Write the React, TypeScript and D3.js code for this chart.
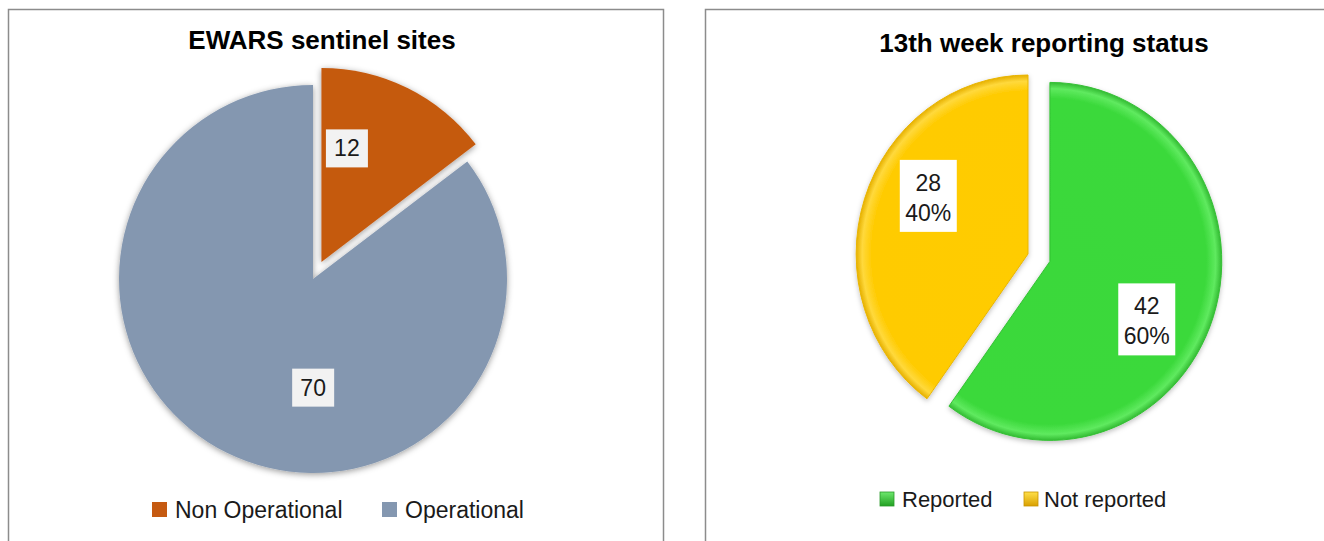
import React from 'react';
import * as d3 from 'd3';

// ---- data ----
const sitesTitle = 'EWARS sentinel sites';
const sitesCategories = ['Non Operational', 'Operational'];
const sitesValues = [12, 70];

const reportTitle = '13th week reporting status';
const reportCategories = ['Reported', 'Not reported'];
const reportValues = [42, 28];

// ---- styling / layout ----
const W = 1324;
const H = 541;
const FONT = "'Liberation Sans', Arial, sans-serif";
const sitesColors = ['#c55a11', '#8497b0'];

const left = { cx: 313, cy: 279, r: 194, sx: 1, explode: [19, 0], labelFrac: [0.24, 0.414], labelRad: [0.6, 0.56] };
const right = { cx: 1028, cy: 254, r: 179, sx: 0.96, explode: [24, 0], labelFrac: [0.555, 0.578], labelRad: [0.65, 0.665] };

const pie = d3.pie<number>().sort(null).value((d) => d).startAngle(0).endAngle(2 * Math.PI);

function geom(values: number[], cfg: typeof left) {
  const arcs = pie(values);
  const arcGen = d3.arc<d3.PieArcDatum<number>>().innerRadius(0).outerRadius(cfg.r);
  return arcs.map((a, i) => {
    const mid = (a.startAngle + a.endAngle) / 2;
    const e = cfg.explode[i];
    const ox = Math.sin(mid) * e * cfg.sx;
    const oy = -Math.cos(mid) * e;
    const la = a.startAngle + cfg.labelFrac[i] * (a.endAngle - a.startAngle);
    const lr = cfg.labelRad[i] * cfg.r;
    return {
      path: arcGen(a) as string,
      tx: cfg.cx + ox,
      ty: cfg.cy + oy,
      lx: cfg.cx + ox + Math.sin(la) * lr * cfg.sx,
      ly: cfg.cy + oy - Math.cos(la) * lr,
    };
  });
}

export default function App() {
  const lg = geom(sitesValues, left);
  const rg = geom(reportValues, right);
  const total = d3.sum(reportValues);
  const pct = d3.format('.0%');

  return (
    <svg width={W} height={H} style={{ position: 'absolute', left: 0, top: 0, background: '#fff' }} fontFamily={FONT}>
      <defs>
        <filter id="shadowL" x="-20%" y="-20%" width="140%" height="140%">
          <feDropShadow dx="0" dy="1.5" stdDeviation="3" floodColor="#000" floodOpacity="0.4" />
        </filter>
        <filter id="shadowR" x="-20%" y="-20%" width="140%" height="140%">
          <feDropShadow dx="0" dy="2" stdDeviation="2.5" floodColor="#000" floodOpacity="0.25" />
        </filter>
        <radialGradient id="gradGreen" gradientUnits="userSpaceOnUse" cx="0" cy="0" r={right.r}>
          <stop offset="0" stopColor="#3ad83a" />
          <stop offset="0.91" stopColor="#3bd93b" />
          <stop offset="0.965" stopColor="#5fea5f" />
          <stop offset="1" stopColor="#33bb33" />
        </radialGradient>
        <radialGradient id="gradYellow" gradientUnits="userSpaceOnUse" cx="0" cy="0" r={right.r}>
          <stop offset="0" stopColor="#ffcc00" />
          <stop offset="0.91" stopColor="#ffcb02" />
          <stop offset="0.965" stopColor="#ffd93c" />
          <stop offset="1" stopColor="#e6b000" />
        </radialGradient>
        <linearGradient id="sqGreen" x1="0" y1="0" x2="0" y2="1">
          <stop offset="0" stopColor="#6ee86e" />
          <stop offset="1" stopColor="#22a022" />
        </linearGradient>
        <linearGradient id="sqYellow" x1="0" y1="0" x2="0" y2="1">
          <stop offset="0" stopColor="#ffe04a" />
          <stop offset="1" stopColor="#d9a000" />
        </linearGradient>
      </defs>

      {/* panels */}
      <rect x={8.5} y={9.5} width={655} height={560} fill="#fff" stroke="#8c8c8c" strokeWidth={1.5} />
      <rect x={705.5} y={9.5} width={660} height={560} fill="#fff" stroke="#8c8c8c" strokeWidth={1.5} />

      {/* left chart */}
      <text x={322} y={49} textAnchor="middle" fontSize={26} fontWeight="bold" fill="#000">{sitesTitle}</text>
      {lg.map((g, i) => (
        <g key={i} transform={`translate(${g.tx},${g.ty})`} filter="url(#shadowL)">
          <path d={g.path} fill={sitesColors[i]} />
        </g>
      ))}
      {lg.map((g, i) => (
        <g key={'l' + i} transform={`translate(${g.lx},${g.ly})`}>
          <rect x={-21} y={-19} width={42} height={38} fill="#f2f2f2" />
          <text y={8} textAnchor="middle" fontSize={23} fill="#1a1a1a">{sitesValues[i]}</text>
        </g>
      ))}
      {[
        { sx: 152, tx: 175 },
        { sx: 382, tx: 405 },
      ].map((p, i) => (
        <g key={'lg' + i}>
          <rect x={p.sx} y={502} width={15} height={15} fill={sitesColors[i]} />
          <text x={p.tx} y={518} fontSize={23} fill="#1a1a1a">{sitesCategories[i]}</text>
        </g>
      ))}

      {/* right chart */}
      <text x={1044} y={52} textAnchor="middle" fontSize={26} fontWeight="bold" fill="#000">{reportTitle}</text>
      {rg.map((g, i) => (
        <g key={i} transform={`translate(${g.tx},${g.ty}) scale(${right.sx},1)`} filter="url(#shadowR)">
          <path d={g.path} fill={i === 0 ? 'url(#gradGreen)' : 'url(#gradYellow)'} stroke={i === 0 ? '#34c034' : '#e8b400'} strokeWidth={1} />
        </g>
      ))}
      {rg.map((g, i) => (
        <g key={'rl' + i} transform={`translate(${g.lx},${g.ly})`}>
          <rect x={-28.5} y={-36} width={57} height={72} fill="#fff" />
          <text y={-5} textAnchor="middle" fontSize={23} fill="#1a1a1a">{reportValues[i]}</text>
          <text y={25} textAnchor="middle" fontSize={23} fill="#1a1a1a">{pct(reportValues[i] / total)}</text>
        </g>
      ))}
      {[
        { sx: 880, tx: 902 },
        { sx: 1024, tx: 1044 },
      ].map((p, i) => (
        <g key={'rlg' + i}>
          <rect x={p.sx} y={492} width={14} height={14} fill={i === 0 ? 'url(#sqGreen)' : 'url(#sqYellow)'} stroke={i === 0 ? '#2a9a2a' : '#c99500'} strokeWidth={0.8} />
          <text x={p.tx} y={507} fontSize={22} fill="#1a1a1a">{reportCategories[i]}</text>
        </g>
      ))}
    </svg>
  );
}
